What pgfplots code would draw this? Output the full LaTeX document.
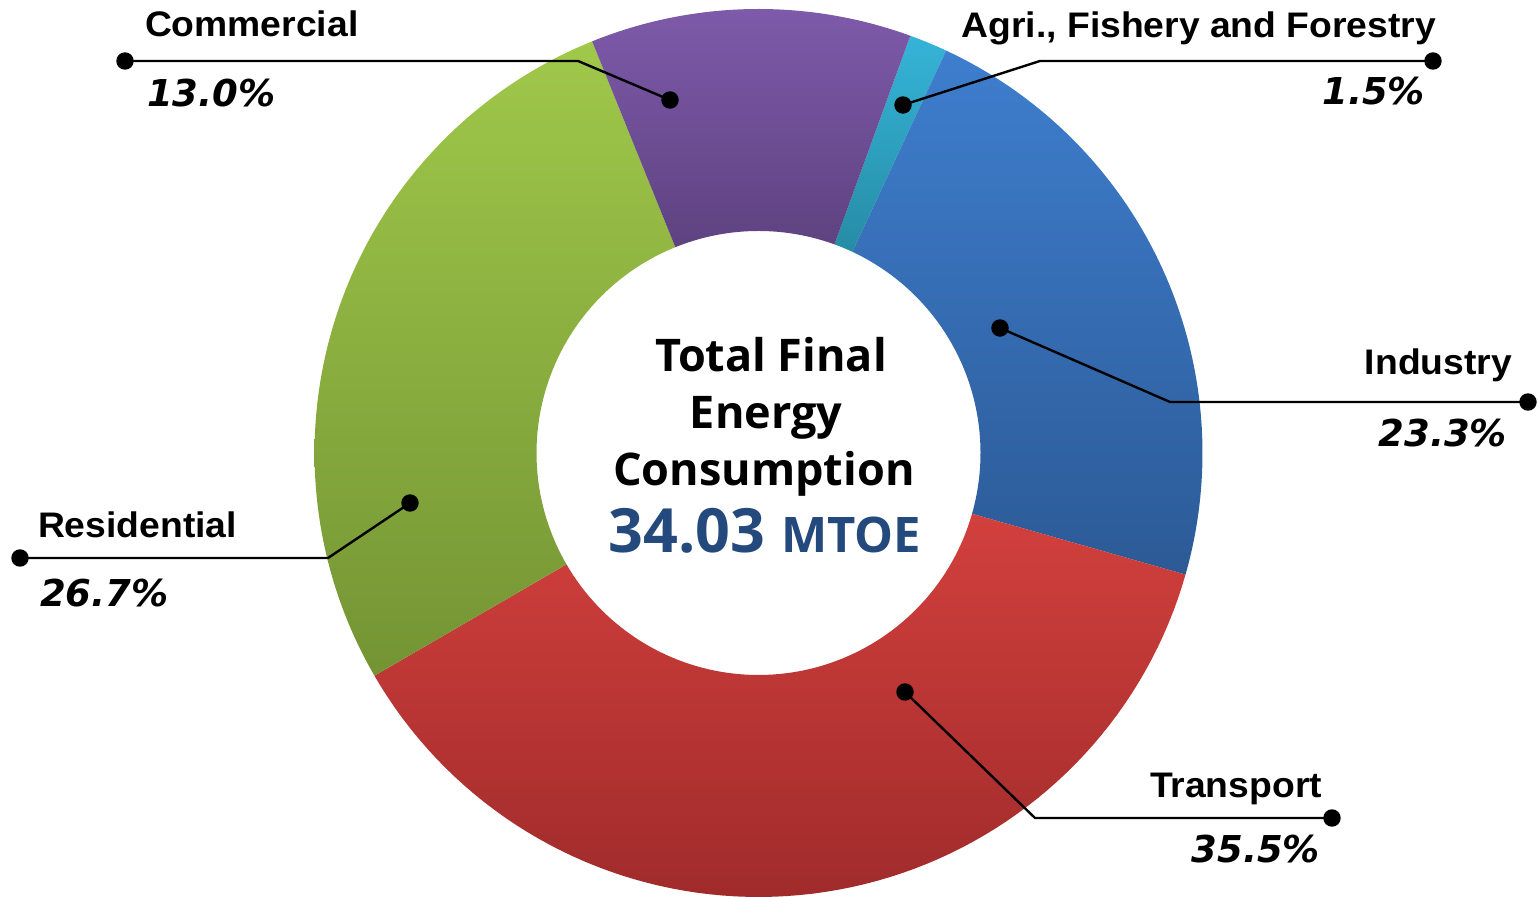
\documentclass[border=0pt]{standalone}
\usepackage{pgfplots}
\pgfplotsset{compat=1.18}
\usepackage{fontspec}
\setmainfont{Liberation Sans}
\newfontfamily\labfont[FakeStretch=1.05]{Liberation Sans}
\newfontfamily\pctfont[UprightFont=*, BoldFont=* Bold, ItalicFont=* Oblique, BoldItalicFont=* Bold Oblique]{DejaVu Sans}
\newfontfamily\ctrfont{Open Sans}

\definecolor{agriT}{RGB}{53,180,216}
\definecolor{agriB}{RGB}{38,140,165}
\definecolor{indT}{RGB}{62,126,206}
\definecolor{indB}{RGB}{44,90,150}
\definecolor{trT}{RGB}{210,64,61}
\definecolor{trB}{RGB}{160,43,43}
\definecolor{resT}{RGB}{160,200,74}
\definecolor{resB}{RGB}{116,148,52}
\definecolor{comT}{RGB}{126,90,170}
\definecolor{comB}{RGB}{94,66,128}
\definecolor{totblue}{RGB}{36,73,124}

% shares of the ring as drawn (percent), clockwise from 70 degrees
\newcommand\shareAgri{1.39}
\newcommand\shareInd{22.47}
\newcommand\shareTr{37.22}
\newcommand\shareRes{27.25}
\newcommand\shareCom{11.67}
\pgfmathsetmacro\bZero{70}
\pgfmathsetmacro\bOne{\bZero-3.6*\shareAgri}
\pgfmathsetmacro\bTwo{\bOne-3.6*\shareInd}
\pgfmathsetmacro\bThree{\bTwo-3.6*\shareTr}
\pgfmathsetmacro\bFour{\bThree-3.6*\shareRes}
\pgfmathsetmacro\bFive{\bFour-3.6*\shareCom}
\def\cx{758.5}
\def\cy{443}
\def\Ro{444}
\def\Ri{222}

\newcommand{\sector}[4]{%
  \addplot[draw=none, top color=#3, bottom color=#4, domain=0:3, samples=241, variable=\t]
  ({\cx + ((\t<=1.5) ? \Ro : \Ri)*cos(((\t<=1.5) ? (#1+(#2-#1)*min(\t,1)) : (#2-(#2-#1)*max(\t-2,0))))},
   {\cy + ((\t<=1.5) ? \Ro : \Ri)*sin(((\t<=1.5) ? (#1+(#2-#1)*min(\t,1)) : (#2-(#2-#1)*max(\t-2,0))))});
}

\begin{document}
\begin{tikzpicture}
\begin{axis}[hide axis, x=1bp, y=1bp, xmin=0, xmax=1538, ymin=0, ymax=896,
  scale only axis, clip=false]
\addplot[draw=none, forget plot] coordinates {(0,0) (1538,896)};
\sector{\bZero}{\bOne}{agriT}{agriB}
\sector{\bOne}{\bTwo}{indT}{indB}
\sector{\bTwo}{\bThree}{trT}{trB}
\sector{\bThree}{\bFour}{resT}{resB}
\sector{\bFour}{\bFive}{comT}{comB}

% leader lines
\addplot[black, line width=2.4bp, mark=*, mark size=7.5bp, mark indices={1,3}] coordinates {(670,796) (578,835) (125,835)};
\addplot[black, line width=2.4bp, mark=*, mark size=7.5bp, mark indices={1,3}] coordinates {(903,791) (1040,835) (1433,835)};
\addplot[black, line width=2.4bp, mark=*, mark size=7.5bp, mark indices={1,3}] coordinates {(1000,568) (1170,494) (1528,494)};
\addplot[black, line width=2.4bp, mark=*, mark size=7.5bp, mark indices={1,3}] coordinates {(905,204) (1035,78) (1332,78)};
\addplot[black, line width=2.4bp, mark=*, mark size=7.5bp, mark indices={1,3}] coordinates {(410,393) (328,338) (20,338)};

% labels
\begin{scope}[every node/.style={inner sep=0pt, outer sep=0pt}]
\node[anchor=base west] at (axis cs:145,859) {\labfont\bfseries\fontsize{35.5bp}{40bp}\selectfont Commercial};
\node[anchor=base east] at (axis cs:1436,858) {\labfont\bfseries\fontsize{35.5bp}{40bp}\selectfont Agri., Fishery and Forestry};
\node[anchor=base east] at (axis cs:1512,521) {\labfont\bfseries\fontsize{35.5bp}{40bp}\selectfont Industry};
\node[anchor=base west] at (axis cs:1150,98) {\labfont\bfseries\fontsize{35.5bp}{40bp}\selectfont Transport};
\node[anchor=base west] at (axis cs:38,358) {\labfont\bfseries\fontsize{35.5bp}{40bp}\selectfont Residential};

\node[anchor=base west] at (axis cs:147,789) {\pctfont\bfseries\itshape\fontsize{37bp}{42bp}\selectfont 13.0\%};
\node[anchor=base east] at (axis cs:1425,791) {\pctfont\bfseries\itshape\fontsize{37bp}{42bp}\selectfont 1.5\%};
\node[anchor=base east] at (axis cs:1507,449) {\pctfont\bfseries\itshape\fontsize{37bp}{42bp}\selectfont 23.3\%};
\node[anchor=base east] at (axis cs:1320,33) {\pctfont\bfseries\itshape\fontsize{37bp}{42bp}\selectfont 35.5\%};
\node[anchor=base west] at (axis cs:40,289) {\pctfont\bfseries\itshape\fontsize{37bp}{42bp}\selectfont 26.7\%};

\node[anchor=base] at (axis cs:771,524) {\ctrfont\bfseries\fontsize{45bp}{54bp}\selectfont Total Final};
\node[anchor=base] at (axis cs:766,467) {\ctrfont\bfseries\fontsize{45bp}{54bp}\selectfont Energy};
\node[anchor=base] at (axis cs:764,410) {\ctrfont\bfseries\fontsize{45bp}{54bp}\selectfont Consumption};
\node[anchor=base, text=totblue] at (axis cs:765,343) {\ctrfont\bfseries\fontsize{61bp}{64bp}\selectfont 34.03 \fontsize{49bp}{52bp}\selectfont MTOE};
\end{scope}
\end{axis}
\end{tikzpicture}
\end{document}
